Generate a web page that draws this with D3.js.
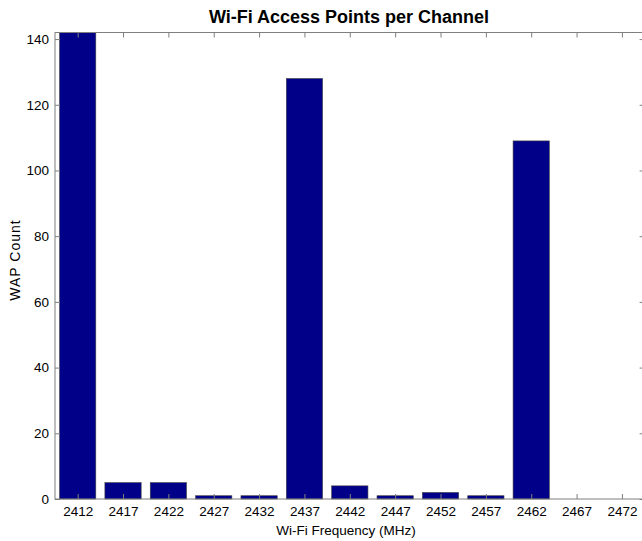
<!DOCTYPE html>
<html>
<head>
<meta charset="utf-8">
<script src="https://cdn.jsdelivr.net/npm/d3@7"></script>
<style>
  html, body { margin: 0; padding: 0; background: #fff; }
  svg { display: block; font-family: "Liberation Sans", Arial, Helvetica, sans-serif; }
</style>
</head>
<body>
<svg id="chart" width="642" height="541"></svg>
<script>
// Channel centre frequencies (MHz) and number of access points seen on each
const frequencies = [2412, 2417, 2422, 2427, 2432, 2437, 2442, 2447, 2452, 2457, 2462, 2467, 2472];
const wapCounts   = [142, 5, 5, 1, 1, 128, 4, 1, 2, 1, 109, 0, 0];
const yTicks      = [0, 20, 40, 60, 80, 100, 120, 140];

const svg = d3.select("#chart");
const plotLeft = 55, plotRight = 644.6, plotTop = 32.5, plotBottom = 499;
const axisColor = "#7f7f7f";
const tickFont = 13.5;

const x = d3.scaleLinear().domain([2409.5, 2474.5]).range([plotLeft, plotRight]);
const y = d3.scaleLinear().domain([0, 142]).range([plotBottom, plotTop]);
const barW = x(2412 + 2) - x(2412 - 2);

const plot = svg.append("g");

// bars
plot.selectAll("rect.bar")
  .data(frequencies.map((f, i) => ({ f, v: wapCounts[i] })).filter(d => d.v > 0))
  .join("rect")
  .attr("class", "bar")
  .attr("x", d => x(d.f) - barW / 2)
  .attr("y", d => y(d.v))
  .attr("width", barW)
  .attr("height", d => y(0) - y(d.v))
  .attr("fill", "#000088")
  .attr("stroke", "#444")
  .attr("stroke-width", 0.6);

// axis box
svg.append("rect")
  .attr("x", plotLeft).attr("y", plotTop)
  .attr("width", plotRight - plotLeft).attr("height", plotBottom - plotTop)
  .attr("fill", "none").attr("stroke", axisColor).attr("stroke-width", 1);

// bottom and left axes with inward ticks
const xAxis = d3.axisBottom(x).tickValues(frequencies).tickFormat(d3.format("d"))
  .tickSizeInner(-5).tickSizeOuter(0).tickPadding(7);
const gx = svg.append("g").attr("transform", `translate(0,${plotBottom})`).call(xAxis);
gx.select(".domain").remove();
gx.selectAll(".tick line").attr("stroke", axisColor);
gx.selectAll(".tick text").attr("font-size", tickFont).attr("fill", "#000");

const yAxis = d3.axisLeft(y).tickValues(yTicks)
  .tickSizeInner(-5).tickSizeOuter(0).tickPadding(6);
const gy = svg.append("g").attr("transform", `translate(${plotLeft},0)`).call(yAxis);
gy.select(".domain").remove();
gy.selectAll(".tick line").attr("stroke", axisColor);
gy.selectAll(".tick text").attr("font-size", tickFont).attr("fill", "#000");

// mirrored ticks on top and right sides
const gxTop = svg.append("g").attr("transform", `translate(0,${plotTop})`)
  .call(d3.axisTop(x).tickValues(frequencies).tickSizeInner(-5).tickSizeOuter(0).tickFormat(""));
gxTop.select(".domain").remove();
gxTop.selectAll(".tick line").attr("stroke", axisColor);

const gyRight = svg.append("g").attr("transform", `translate(${plotRight},0)`)
  .call(d3.axisRight(y).tickValues(yTicks).tickSizeInner(-5).tickSizeOuter(0).tickFormat(""));
gyRight.select(".domain").remove();
gyRight.selectAll(".tick line").attr("stroke", axisColor);

// titles
svg.append("text")
  .attr("x", 349).attr("y", 23)
  .attr("text-anchor", "middle").attr("font-size", 18).attr("font-weight", "bold")
  .text("Wi-Fi Access Points per Channel");

svg.append("text")
  .attr("x", 346).attr("y", 535)
  .attr("text-anchor", "middle").attr("font-size", 13.5)
  .text("Wi-Fi Frequency (MHz)");

svg.append("text")
  .attr("transform", "translate(20,260) rotate(-90)")
  .attr("text-anchor", "middle").attr("font-size", 14).attr("letter-spacing", 1)
  .text("WAP Count");
</script>
</body>
</html>
